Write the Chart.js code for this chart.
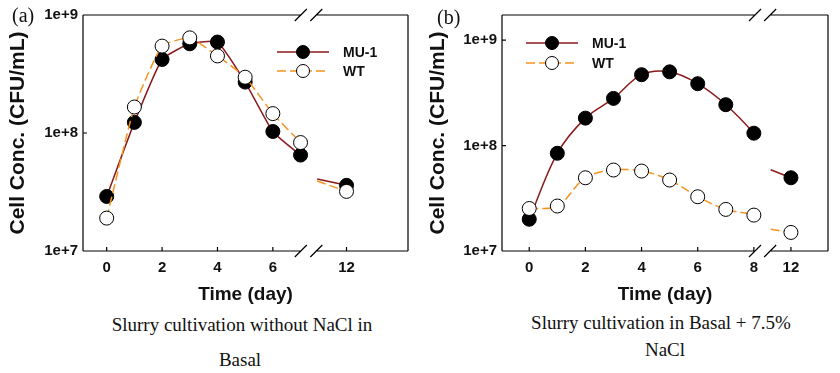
<!DOCTYPE html>
<html>
<head>
<meta charset="utf-8">
<script src="https://cdn.jsdelivr.net/npm/chart.js@4.4.0/dist/chart.umd.min.js"></script>
<style>
body { margin: 0; background: #fff; width: 840px; height: 373px; position: relative; overflow: hidden; }
.panel { position: absolute; top: 0; width: 420px; height: 310px; }
.tag { position: absolute; font-family: "Liberation Serif", "Times New Roman", serif; font-size: 20px; line-height: 20px; color: #111; }
.cap { position: absolute; width: 420px; text-align: center; font-family: "Liberation Serif", "Times New Roman", serif; font-size: 19px; line-height: 20px; color: #111; }
</style>
</head>
<body>
<div class="panel" style="left:0"><canvas id="chart-a" width="420" height="310"></canvas></div>
<div class="panel" style="left:420px"><canvas id="chart-b" width="420" height="310"></canvas></div>
<div class="tag" style="left:12px;top:5px">(a)</div>
<div class="tag" style="left:437px;top:7px">(b)</div>
<div class="cap" style="left:32px;top:315px">Slurry cultivation without NaCl in</div>
<div class="cap" style="left:30px;top:350px">Basal</div>
<div class="cap" style="left:451px;top:313px">Slurry cultivation in Basal + 7.5%</div>
<div class="cap" style="left:455px;top:340px">NaCl</div>
<script>
// (a) NaClなし
const daysA = [0, 1, 2, 3, 4, 5, 6, 7, 12];
const mu1A = [2.9e7, 1.23e8, 4.2e8, 5.7e8, 5.9e8, 2.7e8, 1.03e8, 6.5e7, 3.6e7];
const wtA = [1.9e7, 1.66e8, 5.45e8, 6.4e8, 4.5e8, 2.97e8, 1.46e8, 8.3e7, 3.2e7];
const tickDaysA = [0, 2, 4, 6, 12];

// (b) 7.5% NaCl
const daysB = [0, 1, 2, 3, 4, 5, 6, 7, 8, 12];
const mu1B = [2.0e7, 8.45e7, 1.82e8, 2.8e8, 4.7e8, 5.0e8, 3.86e8, 2.44e8, 1.31e8, 4.95e7];
const wtB = [2.53e7, 2.67e7, 4.95e7, 5.86e7, 5.73e7, 4.71e7, 3.27e7, 2.48e7, 2.19e7, 1.5e7];
const tickDaysB = [0, 2, 4, 6, 8, 12];

const yTickValues = [1e7, 1e8, 1e9];
const seriesNames = ["MU-1", "WT"];

const MU_COLOR = "#8b1a1a";
const WT_COLOR = "#f7931e";
const SANS = "'Liberation Sans', Arial, sans-serif";

function buildPanel(id, days, mu1, wt, tickDays, opt) {
    // 切れ目より後ろの日は左に詰める
    const toPos = d => d > opt.breakAfter ? d - opt.shift : d;
    const isGap = ctx => days[ctx.p0DataIndex] <= opt.breakAfter && days[ctx.p1DataIndex] > opt.breakAfter;

    const makeSet = (name, vals, color, fill, dash, order) => ({
        label: name,
        data: days.map((d, i) => ({ x: toPos(d), y: vals[i] })),
        borderColor: color,
        borderWidth: 1.5,
        borderDash: dash,
        backgroundColor: fill,
        pointBackgroundColor: fill,
        pointBorderColor: "#000",
        pointBorderWidth: 1,
        pointRadius: 7,
        tension: opt.tension,
        order: order,
        segment: {
            borderColor: ctx => isGap(ctx) ? "rgba(0,0,0,0)" : color
        }
    });

    // 切れ目の後ろの短い線
    const stubPlugin = {
        id: "breakStub",
        beforeDatasetsDraw(chart) {
            const { ctx, scales } = chart;
            const i = days.findIndex(d => d > opt.breakAfter) - 1;
            const j = i + 1;
            chart.data.datasets.forEach((ds, k) => {
                const meta = chart.getDatasetMeta(k);
                const vi = ds.data[i].y, vj = ds.data[j].y;
                const tReal = opt.stubFrom + opt.shift;
                const f = (tReal - days[i]) / (days[j] - days[i]);
                const v = Math.pow(10, Math.log10(vi) + f * (Math.log10(vj) - Math.log10(vi)));
                ctx.save();
                ctx.strokeStyle = ds.borderColor;
                ctx.lineWidth = 1.5;
                ctx.setLineDash(ds.borderDash);
                ctx.beginPath();
                ctx.moveTo(scales.x.getPixelForValue(opt.stubFrom), scales.y.getPixelForValue(v));
                ctx.lineTo(meta.data[j].x, meta.data[j].y);
                ctx.stroke();
                ctx.restore();
            });
        }
    };

    // 枠・目盛・切れ目・凡例
    const framePlugin = {
        id: "frame",
        afterDatasetsDraw(chart) {
            const { ctx, chartArea, scales } = chart;
            const { left, right, top, bottom } = chartArea;
            const b1 = scales.x.getPixelForValue(opt.breakMarks[0]);
            const b2 = scales.x.getPixelForValue(opt.breakMarks[1]);
            ctx.save();
            ctx.strokeStyle = "#000";
            ctx.lineWidth = 1.2;
            ctx.setLineDash([]);
            ctx.beginPath();
            ctx.moveTo(left, top); ctx.lineTo(left, bottom);
            ctx.moveTo(right, top); ctx.lineTo(right, bottom);
            [top, bottom].forEach(y => {
                ctx.moveTo(left, y); ctx.lineTo(b1, y);
                ctx.moveTo(b2, y); ctx.lineTo(right, y);
            });
            // 切れ目の斜線
            [top, bottom].forEach(y => {
                [b1, b2].forEach(x => {
                    ctx.moveTo(x - 6, y + 6);
                    ctx.lineTo(x + 6, y - 6);
                });
            });
            // 内向き目盛
            yTickValues.forEach(v => {
                const y = scales.y.getPixelForValue(v);
                ctx.moveTo(left, y); ctx.lineTo(left + 4, y);
            });
            tickDays.forEach(d => {
                const x = scales.x.getPixelForValue(toPos(d));
                ctx.moveTo(x, bottom); ctx.lineTo(x, bottom - 4);
            });
            ctx.stroke();

            // 凡例
            chart.data.datasets.forEach((ds, k) => {
                const lx = opt.legend.x;
                const ly = opt.legend.y + k * opt.legend.gap;
                ctx.strokeStyle = ds.borderColor;
                ctx.lineWidth = 1.5;
                ctx.setLineDash(ds.borderDash);
                ctx.beginPath();
                ctx.moveTo(lx - 26, ly); ctx.lineTo(lx + 26, ly);
                ctx.stroke();
                ctx.setLineDash([]);
                ctx.fillStyle = ds.pointBackgroundColor;
                ctx.strokeStyle = "#000";
                ctx.lineWidth = 1;
                ctx.beginPath();
                ctx.arc(lx, ly, 6.5, 0, Math.PI * 2);
                ctx.fill();
                ctx.stroke();
                ctx.fillStyle = "#111";
                ctx.font = "bold 14px " + SANS;
                ctx.textBaseline = "middle";
                ctx.textAlign = "left";
                ctx.fillText(ds.label, lx + 40, ly + 1);
            });
            ctx.restore();
        }
    };

    return new Chart(document.getElementById(id), {
        type: "line",
        data: {
            datasets: [
                makeSet(seriesNames[0], mu1, MU_COLOR, "#000", [], 2),
                makeSet(seriesNames[1], wt, WT_COLOR, "#fff", [9, 4], 1)
            ]
        },
        options: {
            responsive: false,
            animation: false,
            layout: { padding: { top: 15, right: 12, left: 0, bottom: 0 } },
            plugins: {
                legend: { display: false },
                tooltip: { enabled: false }
            },
            scales: {
                x: {
                    type: "linear",
                    min: opt.xMin,
                    max: opt.xMax,
                    grid: { display: false, drawTicks: false },
                    border: { display: false },
                    afterBuildTicks: axis => {
                        axis.ticks = tickDays.map(d => ({ value: toPos(d) }));
                    },
                    afterFit: axis => { axis.height = 59; },
                    ticks: {
                        padding: 8,
                        color: "#111",
                        font: { family: SANS, size: 15, weight: "bold" },
                        callback: (v, idx) => String(tickDays[idx])
                    },
                    title: {
                        display: true,
                        text: "Time (day)",
                        color: "#111",
                        padding: { top: 0, bottom: 4 },
                        font: { family: SANS, size: 19, weight: "bold" }
                    }
                },
                y: {
                    type: "logarithmic",
                    min: 1e7,
                    max: opt.yMax,
                    grid: { display: false, drawTicks: false },
                    border: { display: false },
                    afterBuildTicks: axis => {
                        axis.ticks = yTickValues.map(v => ({ value: v }));
                    },
                    afterFit: axis => { axis.width = opt.yWidth; },
                    ticks: {
                        padding: 5,
                        color: "#111",
                        font: { family: SANS, size: 15, weight: "bold" },
                        callback: v => "1e+" + Math.round(Math.log10(v))
                    },
                    title: {
                        display: true,
                        text: "Cell Conc. (CFU/mL)",
                        color: "#111",
                        padding: { top: 6, bottom: 0 },
                        font: { family: SANS, size: 21, weight: "bold" }
                    }
                }
            }
        },
        plugins: [stubPlugin, framePlugin]
    });
}

buildPanel("chart-a", daysA, mu1A, wtA, tickDaysA, {
    breakAfter: 7, shift: 3.34, xMin: -0.855, xMax: 10.88, yMax: 1e9,
    breakMarks: [7.01, 7.57], stubFrom: 7.6, tension: 0.15, yWidth: 83,
    legend: { x: 303, y: 52, gap: 19 }
});

buildPanel("chart-b", daysB, mu1B, wtB, tickDaysB, {
    breakAfter: 8, shift: 2.68, xMin: -0.97, xMax: 10.64, yMax: 1.73e9,
    breakMarks: [8.04, 8.58], stubFrom: 8.6, tension: 0.35, yWidth: 82,
    legend: { x: 132, y: 43, gap: 20 }
});
</script>
</body>
</html>
